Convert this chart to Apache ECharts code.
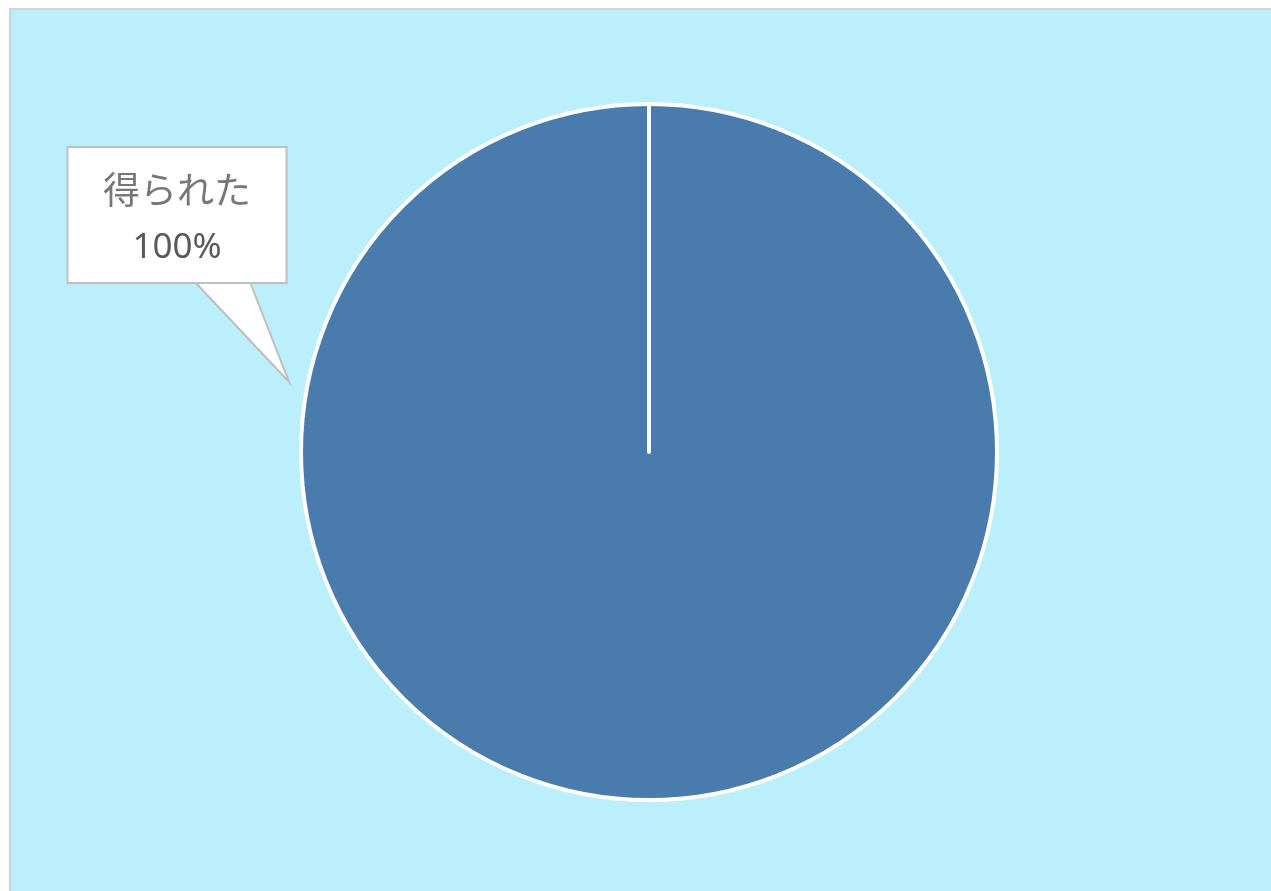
<!DOCTYPE html>
<html>
<head>
<meta charset="utf-8">
<script src="https://cdn.jsdelivr.net/npm/echarts@6/dist/echarts.min.js"></script>
<style>
  html, body { margin: 0; padding: 0; background: #ffffff; }
  #chart {
    position: absolute; left: 9px; top: 8px;
    width: 1262px; height: 883px;
    border-left: 2px solid #d4d4d4;
    border-top: 2px solid #d4d4d4;
    background: #bbeffc;
  }
</style>
</head>
<body>
<div id="chart"></div>
<script>
// Categories and their values
const categories = ['得られた', '得られなかった'];
const values = [100, 0];
const sliceColors = ['#497cad', '#d9d9d9'];

const chart = echarts.init(document.getElementById('chart'), null, { renderer: 'canvas' });

const pieData = categories.map((name, i) => ({
  name: name,
  value: values[i],
  itemStyle: { color: sliceColors[i] },
  label: { show: i === 0 }
}));

// Callout box placement (label centre) and its pointer
const calloutCenter = [166, 205];
const pointerBase = [[184, 271], [239, 271]];
const pointerTip = [278, 372];

chart.setOption({
  backgroundColor: '#bbeffc',
  animation: false,
  series: [{
    type: 'pie',
    center: [638, 442],
    radius: [0, 348],
    startAngle: 90,
    clockwise: true,
    avoidLabelOverlap: false,
    itemStyle: { borderColor: '#ffffff', borderWidth: 4 },
    emphasis: { disabled: true },
    labelLine: { show: false },
    label: {
      show: true,
      position: 'outside',
      formatter: '{n|{b}}\n{v|{d}%}',
      backgroundColor: '#ffffff',
      borderColor: '#bfbfbf',
      borderWidth: 2,
      width: 217,
      padding: [13, 0, 5, 0],
      rich: {
        n: { fontFamily: 'Noto Sans CJK JP', fontSize: 37, color: '#777777', lineHeight: 58, align: 'center' },
        v: { fontFamily: 'Noto Sans', fontSize: 35, color: '#595959', lineHeight: 58, align: 'center' }
      }
    },
    labelLayout: function () {
      return { x: calloutCenter[0], y: calloutCenter[1], align: 'center', verticalAlign: 'middle', moveOverlap: false };
    },
    data: pieData
  }],
  graphic: [{
    type: 'group',
    z: 100,
    children: [{
      type: 'polygon',
      shape: { points: [pointerBase[0], pointerTip, pointerBase[1]] },
      style: { fill: '#ffffff', stroke: null }
    }, {
      type: 'polyline',
      shape: { points: [[pointerBase[0][0], pointerBase[0][1] + 1], pointerTip, [pointerBase[1][0], pointerBase[1][1] + 1]] },
      style: { fill: null, stroke: '#bfbfbf', lineWidth: 2 }
    }]
  }]
});
</script>
</body>
</html>
